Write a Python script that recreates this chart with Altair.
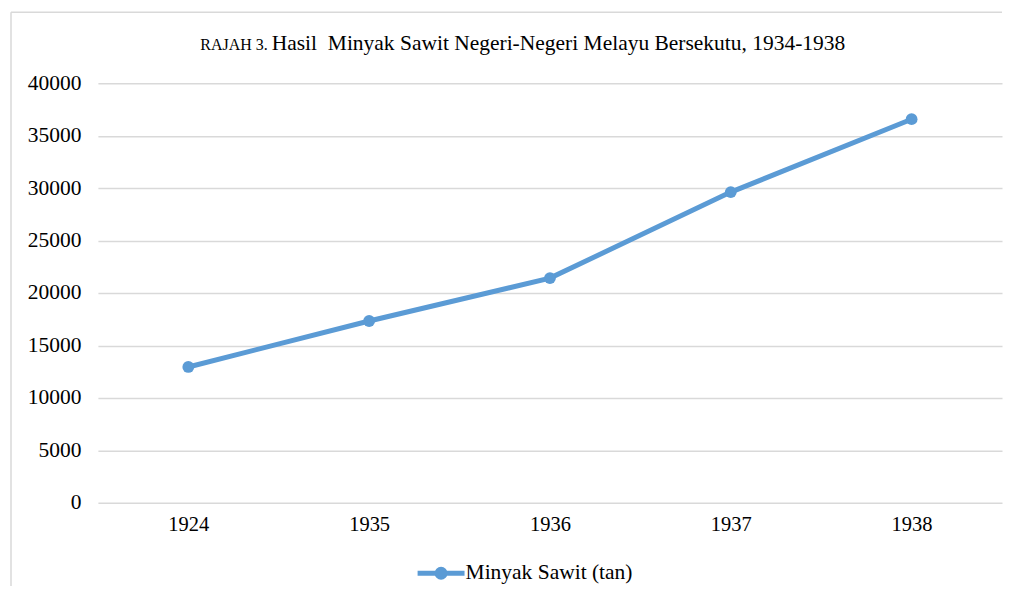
import altair as alt
import pandas as pd

years = ["1924", "1935", "1936", "1937", "1938"]
values = [12950, 17330, 21420, 29620, 36570]
series_name = "Minyak Sawit (tan)"
y_ticks = [0, 5000, 10000, 15000, 20000, 25000, 30000, 35000, 40000]
title_prefix = "RAJAH 3."
title_main = "Hasil\u00a0 Minyak Sawit Negeri-Negeri Melayu Bersekutu, 1934-1938"

BLUE = "#5b9bd5"
GRID = "#d9d9d9"
FONT = "Liberation Serif"

df = pd.DataFrame({"year": years, "value": values, "series": [series_name] * len(years)})

W, H = 905, 420

x_enc = alt.X("year:N", sort=years, scale=alt.Scale(type="point", padding=0.5),
              axis=alt.Axis(title=None, labelAngle=0, labelFontSize=20.5, labelFont=FONT,
                            labelColor="#000000", labelPadding=12, ticks=False,
                            domain=False, grid=False))
y_enc = alt.Y("value:Q", scale=alt.Scale(domain=[0, 40000], nice=False),
              axis=alt.Axis(title=None, values=y_ticks, format="d", labelFontSize=21.5,
                            labelFont=FONT, labelColor="#000000", labelPadding=17,
                            ticks=False, domain=False, gridColor=GRID, gridWidth=1.5))

color_enc = alt.Color("series:N", scale=alt.Scale(range=[BLUE]),
                      legend=alt.Legend(title=None, orient="none", legendX=329, legendY=476,
                                        padding=0, labelFont=FONT, labelFontSize=21.5,
                                        labelColor="#000000", labelOffset=10, labelLimit=400,
                                        symbolType="M-2,0L2,0M0.34,0A0.34,0.34,0,1,1,-0.34,0A0.34,0.34,0,1,1,0.34,0Z",
                                        symbolSize=552, symbolStrokeWidth=5,
                                        symbolFillColor=BLUE, symbolStrokeColor=BLUE))

base = alt.Chart(df)
line = base.mark_line(strokeWidth=5, color=BLUE).encode(x=x_enc, y=y_enc, color=color_enc)
pts = base.mark_point(filled=True, size=140, opacity=1, color=BLUE).encode(x=x_enc, y=y_enc, color=color_enc)

tdf = pd.DataFrame({"a": [title_prefix], "b": [title_main]})
t1 = alt.Chart(tdf).mark_text(font=FONT, fontSize=16, align="right", baseline="alphabetic",
                              color="#000000").encode(text="a:N", x=alt.value(170), y=alt.value(-33))
t2 = alt.Chart(tdf).mark_text(font=FONT, fontSize=21.5, align="left", baseline="alphabetic",
                              color="#000000").encode(text="b:N", x=alt.value(174), y=alt.value(-33))

border_left = alt.Chart(tdf).mark_rule(color=GRID, strokeWidth=1.5).encode(
    x=alt.value(-87), y=alt.value(-71), y2=alt.value(510))
border_top = alt.Chart(tdf).mark_rule(color=GRID, strokeWidth=1.5).encode(
    x=alt.value(-87), x2=alt.value(905), y=alt.value(-71))

chart = alt.layer(border_left, border_top, line, pts, t1, t2).properties(
    width=W, height=H,
    autosize=alt.AutoSizeParams(type="none"),
    padding={"left": 90, "top": 75, "right": 3, "bottom": 83},
).configure(background="#ffffff").configure_view(stroke=None).configure_legend(
    labelFont=FONT)

chart.save("out.html", embed_options={"renderer": "svg", "actions": False})
